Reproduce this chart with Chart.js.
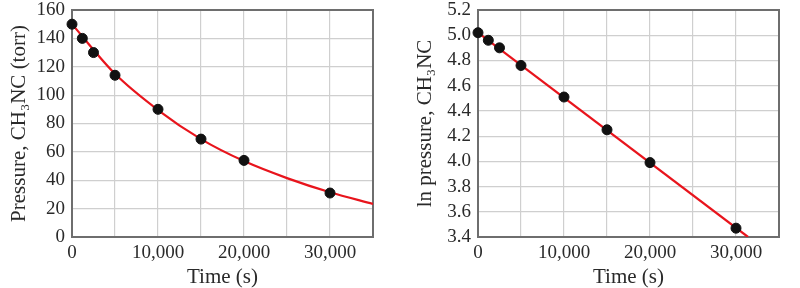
<!DOCTYPE html>
<html>
<head>
<meta charset="utf-8">
<script src="https://cdn.jsdelivr.net/npm/chart.js@4.4.0/dist/chart.umd.min.js"></script>
<style>
  body { margin: 0; background: #fff; }
  .box { position: absolute; top: 0; height: 288px; }
</style>
</head>
<body>
<div class="box" style="left:0;width:390px"><canvas id="chart1" width="390" height="288"></canvas></div>
<div class="box" style="left:400px;width:400px"><canvas id="chart2" width="400" height="288"></canvas></div>
<script>
const times = [0, 1200, 2500, 5000, 10000, 15000, 20000, 30000];
const pressure = [150, 140, 130, 114, 90, 69, 54, 31];
const lnPressure = [5.02, 4.96, 4.90, 4.76, 4.51, 4.25, 3.99, 3.47];

// curva ajustada (izquierda) y recta (derecha)
const fitTimes = [0, 5000, 10000, 15000, 20000, 25000, 30000, 35000];
const fitPressure = [150, 115, 89.5, 69, 53.5, 41.5, 31.5, 23.3];
const lnFitTimes = [0, 31400];
const lnFitValues = [5.02, 3.40];

// ticks
const xTicks = [0, 5000, 10000, 15000, 20000, 25000, 30000, 35000];
const xTickLabels = ['0', '', '10,000', '', '20,000', '', '30,000', ''];
const yTicksLeft = [0, 20, 40, 60, 80, 100, 120, 140, 160];
const yTicksRight = [3.4, 3.6, 3.8, 4.0, 4.2, 4.4, 4.6, 4.8, 5.0, 5.2];

const serif = "'Liberation Serif', 'DejaVu Serif', serif";
const tickFont = { family: serif, size: 19 };
const titleFont = { family: serif, size: 21 };
const textColor = '#2a2a2a';
const gridColor = '#cfcfcf';
const red = '#e8141c';

const pts = (xs, ys) => xs.map((x, i) => ({ x: x, y: ys[i] }));

// marco gris alrededor del área de datos
const frame = {
    id: 'frame',
    beforeDatasetsDraw(chart) {
        const { ctx, chartArea: a } = chart;
        ctx.save();
        ctx.strokeStyle = '#6e6e6e';
        ctx.lineWidth = 2;
        ctx.strokeRect(a.left, a.top, a.right - a.left, a.bottom - a.top);
        ctx.restore();
    }
};

function makeChart(id, yTicks, fmt, yTitle, yWidth, titlePad, fitX, fitY, curved, ys, rightPad) {
    return new Chart(document.getElementById(id), {
        type: 'scatter',
        data: {
            datasets: [{
                data: pts(times, ys),
                backgroundColor: '#111',
                borderColor: '#111',
                pointRadius: 5,
                clip: false
            }, {
                data: pts(fitX, fitY),
                showLine: true,
                borderColor: red,
                borderWidth: 2.2,
                pointRadius: 0,
                tension: curved ? 0.4 : 0,
                cubicInterpolationMode: curved ? 'monotone' : 'default'
            }]
        },
        options: {
            responsive: false,
            animation: false,
            layout: { padding: { top: 10, right: rightPad, left: 0, bottom: 0 } },
            plugins: { legend: { display: false }, tooltip: { enabled: false } },
            scales: {
                x: {
                    type: 'linear',
                    min: 0, max: 35000,
                    afterBuildTicks: s => { s.ticks = xTicks.map(v => ({ value: v })); },
                    afterFit: s => { s.height = 51; s.paddingLeft = 0; s.paddingRight = 0; },
                    ticks: {
                        font: tickFont, color: textColor, padding: 5, maxRotation: 0,
                        autoSkip: false,
                        callback: (v, i) => xTickLabels[i]
                    },
                    grid: { color: gridColor, lineWidth: 1.2, drawTicks: false },
                    border: { display: false },
                    title: { display: true, text: 'Time (s)', font: titleFont, color: textColor, padding: { top: 0, bottom: -2 } }
                },
                y: {
                    type: 'linear',
                    min: yTicks[0], max: yTicks[yTicks.length - 1],
                    afterBuildTicks: s => { s.ticks = yTicks.map(v => ({ value: v })); },
                    afterFit: s => { s.width = yWidth; s.paddingTop = 0; s.paddingBottom = 0; },
                    ticks: {
                        font: tickFont, color: textColor, padding: 7, autoSkip: false,
                        callback: v => fmt(v)
                    },
                    grid: { color: gridColor, lineWidth: 1.2, drawTicks: false },
                    border: { display: false },
                    title: { display: true, text: yTitle, font: titleFont, color: textColor, padding: { top: titlePad, bottom: 0 } }
                }
            }
        },
        plugins: [frame]
    });
}

makeChart('chart1', yTicksLeft, v => String(v), 'Pressure, CH₃NC (torr)', 72, 7,
    fitTimes, fitPressure, true, pressure, 17);
makeChart('chart2', yTicksRight, v => v.toFixed(1), 'ln pressure, CH₃NC', 78, 13,
    lnFitTimes, lnFitValues, false, lnPressure, 21);
</script>
</body>
</html>
